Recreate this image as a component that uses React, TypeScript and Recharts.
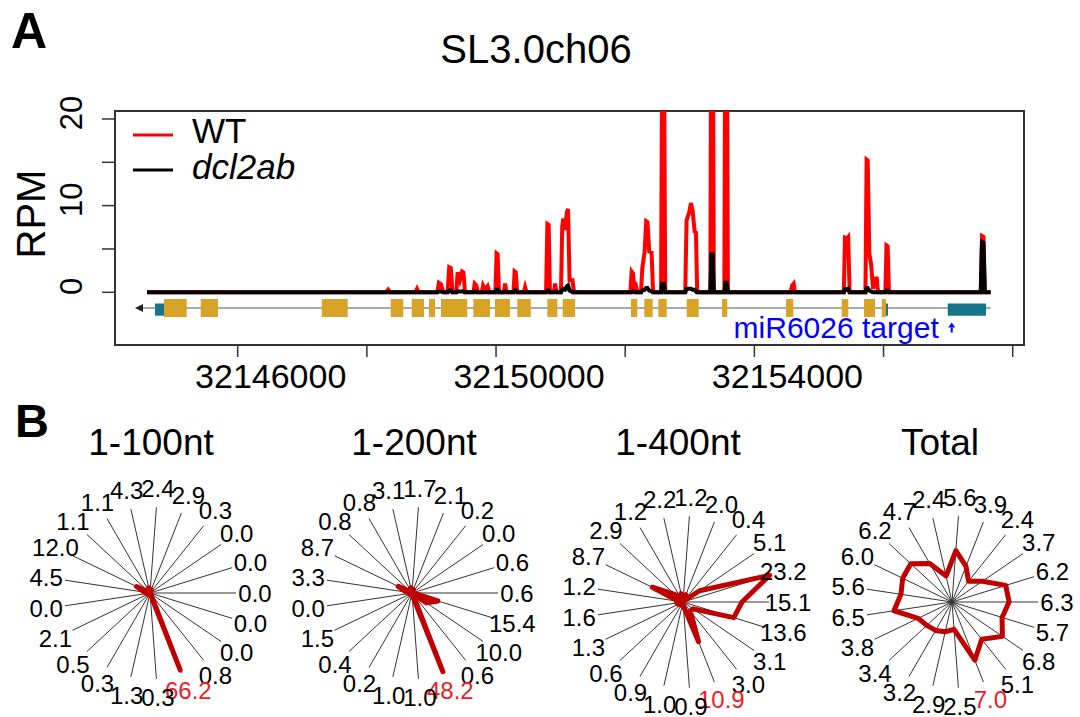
import {
  ComposedChart,
  Legend,
  Line,
  PolarAngleAxis,
  PolarGrid,
  PolarRadiusAxis,
  Radar,
  RadarChart,
  ReferenceArea,
  ReferenceDot,
  XAxis,
  YAxis,
} from 'recharts';

const FONT = '"Liberation Sans", Arial, Helvetica, sans-serif';

// small RNA coverage (RPM) along SL3.0ch06
const positions = [
  32144596, 32148300, 32148330, 32148360, 32148750, 32148776, 32148800, 32149090,
  32149115, 32149150, 32149180, 32149250, 32149275, 32149300, 32149325, 32149385,
  32149405, 32149440, 32149475, 32149495, 32149520, 32149650, 32149670, 32149695,
  32149720, 32149780, 32149800, 32149835, 32149870, 32149895, 32149990, 32150008,
  32150025, 32150045, 32150120, 32150140, 32150162, 32150270, 32150288, 32150305,
  32150328, 32150430, 32150450, 32150472, 32150775, 32150795, 32150815, 32150835,
  32150895, 32150915, 32150935, 32151005, 32151025, 32151042, 32151070, 32151098,
  32151115, 32151138, 32151185, 32151205, 32152080, 32152100, 32152120, 32152140,
  32152165, 32152188, 32152245, 32152265, 32152300, 32152325, 32152345, 32152372,
  32152408, 32152432, 32152555, 32152575, 32152598, 32152620, 32152930, 32152950,
  32152990, 32153018, 32153045, 32153075, 32153095, 32153115, 32153318, 32153336,
  32153354, 32153372, 32153535, 32153553, 32153572, 32153590, 32154560, 32154585,
  32154608, 32154630, 32155385, 32155403, 32155428, 32155452, 32155475, 32155720,
  32155738, 32155755, 32155780, 32155808, 32155838, 32155868, 32155895, 32155915,
  32156028, 32156046, 32156064, 32156084, 32157505, 32157525, 32157548, 32157568,
  32157659,
];
const wtRpm = [
  0, 0, 0.3, 0, 0, 0.4, 0, 0,
  1.1, 0.9, 0, 0, 2.9, 2.8, 0, 0,
  2.3, 1.4, 2.4, 2.3, 0, 0, 1.0, 0.8,
  0, 0, 0.8, 0.3, 0.7, 0, 0, 4.5,
  4.4, 0, 0, 1.0, 0, 0, 2.4, 2.3,
  0, 0, 0.6, 0, 0, 7.9, 7.8, 0,
  0, 1.0, 0, 0, 7.6, 8.5, 7.2, 9.3,
  9.6, 1.4, 1.4, 0, 0, 2.4, 2.2, 0.6,
  0.8, 0, 0, 2.8, 4.6, 8.2, 8.1, 4.7,
  4.6, 0, 0, 32, 32, 0, 0, 8.3,
  9.2, 10.3, 9.4, 7.0, 6.9, 0, 0, 45,
  45, 0, 0, 40, 40, 0, 0, 0.8,
  1.0, 0, 0, 6.3, 6.2, 6.4, 0, 0,
  15.3, 15.2, 4.5, 3.2, 0.4, 1.6, 1.6, 0,
  0, 5.4, 5.3, 0, 0, 6.5, 6.4, 0,
  0,
];
const dcl2abRpm = [
  0, 0, 0, 0, 0, 0, 0, 0,
  0.1, 0.1, 0, 0, 0.2, 0.2, 0, 0,
  0.1, 0.1, 0.1, 0.1, 0, 0, 0.1, 0,
  0, 0, 0, 0, 0, 0, 0, 0.3,
  0.3, 0, 0, 0.1, 0, 0, 0.2, 0.2,
  0, 0, 0, 0, 0, 0.2, 0.2, 0,
  0, 0.1, 0, 0, 0.3, 0.4, 0.3, 0.7,
  0.8, 0.2, 0, 0, 0, 0, 0.1, 0,
  0, 0, 0, 0.2, 0.3, 0.5, 0.5, 0.2,
  0.1, 0, 0, 1.0, 1.0, 0, 0, 0.4,
  0.4, 0.4, 0.3, 0.3, 0.1, 0, 0, 4.4,
  4.4, 0, 0, 1.1, 1.1, 0, 0, 0,
  0, 0, 0, 0.4, 0.3, 0.4, 0, 0,
  0.5, 0.5, 0.2, 0.1, 0, 0, 0, 0,
  0, 0.2, 0.2, 0, 0, 5.8, 5.7, 0,
  0,
];

const xTicks = [32146000, 32148000, 32150000, 32152000, 32154000, 32156000, 32158000];
const xLabelled = [32146000, 32150000, 32154000];
const yTicks = [0, 5, 10, 15, 20];
const yLabelled = [0, 10, 20];

// gene model (minus strand)
const geneStart = 32144534;
const geneEnd = 32157659;
const exonStarts = [
  32144859, 32145427, 32147301, 32148369, 32148694, 32148962, 32149148, 32149648,
  32149984, 32150329, 32150794, 32151032, 32152090, 32152296, 32152513, 32152952,
  32153499, 32154490, 32155352, 32155698, 32155972,
];
const exonEnds = [
  32145210, 32145695, 32147703, 32148564, 32148885, 32149055, 32149555, 32149907,
  32150216, 32150537, 32150949, 32151223, 32152187, 32152426, 32152643, 32153138,
  32153581, 32154603, 32155455, 32155868, 32156038,
];
const utrStarts = [32144720, 32156038, 32156994];
const utrEnds = [32144859, 32156069, 32157587];
const mirTarget = 32157056;

// phasing scores, clockwise starting from the top spoke
const nt100 = [2.4, 2.9, 0.3, 0.0, 0.0, 0.0, 0.0, 0.0, 0.8, 66.2, 0.3, 1.3, 0.3, 0.5, 2.1, 0.0, 4.5, 12.0, 1.1, 1.1, 4.3];
const nt200 = [1.7, 2.1, 0.2, 0.0, 0.6, 0.6, 15.4, 10.0, 0.6, 48.2, 1.0, 1.0, 0.2, 0.4, 1.5, 0.0, 3.3, 8.7, 0.8, 0.8, 3.1];
const nt400 = [1.2, 2.0, 0.4, 5.1, 23.2, 15.1, 13.6, 3.1, 3.0, 10.9, 0.9, 1.0, 0.9, 0.6, 1.3, 1.6, 1.2, 8.7, 2.9, 1.2, 2.2];
const total = [5.6, 3.9, 2.4, 3.7, 6.2, 6.3, 5.7, 6.8, 5.1, 7.0, 2.5, 2.9, 3.2, 3.4, 3.8, 6.5, 5.6, 6.0, 6.2, 4.7, 2.4];
const HIGHLIGHT = 9;

const trackData = positions.map((pos, i) => ({ pos, wt: wtRpm[i], dcl2ab: dcl2abRpm[i] }));

const X_DOMAIN = [32144100, 32158175];
const Y_DOMAIN = [-6.08, 20.92];
const GENE_Y = -1.81;

const XTick = (props: any) => {
  const { x, y, payload } = props;
  if (!xLabelled.includes(payload.value)) return <g />;
  return (
    <text x={x + 33} y={y + 29} textAnchor="middle" fontSize={34} fontFamily={FONT} fill="#000">
      {payload.value}
    </text>
  );
};

const YTick = (props: any) => {
  const { x, y, payload } = props;
  if (!yLabelled.includes(payload.value)) return <g />;
  const tx = x - 18;
  const ty = y - 6;
  return (
    <text x={tx} y={ty} transform={`rotate(-90 ${tx} ${ty})`} textAnchor="middle" fontSize={31} fontFamily={FONT} fill="#000">
      {payload.value}
    </text>
  );
};

const renderLegend = (props: any) => (
  <svg width={220} height={80} style={{ display: 'block' }}>
    {(props.payload || []).map((item: any, i: number) => (
      <g key={item.value}>
        <line x1={13} x2={53} y1={23 + i * 35} y2={23 + i * 35} stroke={item.color} strokeWidth={3} />
        <text
          x={72}
          y={31 + i * 36}
          fontSize={35}
          fontFamily={FONT}
          fontStyle={item.value === 'dcl2ab' ? 'italic' : 'normal'}
          fill="#000"
        >
          {item.value}
        </text>
      </g>
    ))}
  </svg>
);

const arrowLeft = (p: any) => (
  <path d={`M ${p.cx - 8} ${p.cy} L ${p.cx} ${p.cy - 4} L ${p.cx} ${p.cy + 4} Z`} fill="#222" />
);

const mirMark = (p: any) => (
  <g>
    <path d={`M ${p.cx} ${p.cy - 5} L ${p.cx - 3.5} ${p.cy} L ${p.cx + 3.5} ${p.cy} Z`} fill="#0000ff" />
    <line x1={p.cx} x2={p.cx} y1={p.cy} y2={p.cy + 5} stroke="#0000ff" strokeWidth={2} />
    <text x={p.cx - 13} y={p.cy + 10.5} textAnchor="end" fontSize={30} fontFamily={FONT} fill="#0000ff">
      miR6026 target
    </text>
  </g>
);

const CoverageTrack = () => (
  <ComposedChart
    width={1080}
    height={400}
    data={trackData}
    margin={{ top: 111, right: 56, bottom: 54, left: 114 }}
  >
    <XAxis
      dataKey="pos"
      type="number"
      domain={X_DOMAIN}
      allowDataOverflow
      ticks={xTicks}
      tick={XTick}
      tickSize={12}
      tickLine={{ stroke: '#333', strokeWidth: 1.5 }}
      axisLine={false}
      height={1}
      interval={0}
    />
    <YAxis
      type="number"
      domain={Y_DOMAIN}
      allowDataOverflow
      ticks={yTicks}
      tick={YTick}
      tickSize={13}
      tickLine={{ stroke: '#333', strokeWidth: 1.5 }}
      axisLine={false}
      width={1}
      interval={0}
    />
    <ReferenceArea x1={geneStart} x2={geneEnd} y1={GENE_Y + 0.1} y2={GENE_Y - 0.1} fill="#8c8c8c" fillOpacity={1} stroke="none" />
    {exonStarts.map((s, i) => (
      <ReferenceArea key={`e${i}`} x1={s} x2={exonEnds[i]} y1={-0.77} y2={-2.85} fill="#d8a428" fillOpacity={1} stroke="none" />
    ))}
    {utrStarts.map((s, i) => (
      <ReferenceArea key={`u${i}`} x1={s} x2={utrEnds[i]} y1={-1.29} y2={-2.7} fill="#16758a" fillOpacity={1} stroke="none" />
    ))}
    <ReferenceDot x={geneStart} y={GENE_Y} r={0} shape={arrowLeft} />
    <ReferenceDot x={mirTarget} y={-4.07} r={0} shape={mirMark} />
    <Line dataKey="wt" name="WT" type="linear" stroke="#ff0000" strokeWidth={4} dot={false} isAnimationActive={false} />
    <Line dataKey="dcl2ab" name="dcl2ab" type="linear" stroke="#000000" strokeWidth={4} dot={false} isAnimationActive={false} />
    <ReferenceArea
      x1={X_DOMAIN[0]}
      x2={X_DOMAIN[1]}
      y1={Y_DOMAIN[0]}
      y2={Y_DOMAIN[1]}
      fill="none"
      fillOpacity={0}
      stroke="#333"
      strokeWidth={2}
    />
    <Legend
      content={renderLegend}
      layout="vertical"
      align="center"
      verticalAlign="middle"
      wrapperStyle={{ left: 120, top: 112, width: 220, height: 80 }}
    />
  </ComposedChart>
);

// 21 spokes, 360/21 degrees apart; the first spoke sits 4.3 degrees right of vertical
const SPOKE_STEP = 360 / 21;
const FIRST_SPOKE = 90 - SPOKE_STEP / 4;

const Spider = ({ values, cx, cy, rMin, rMax }: any) => {
  const data = values.map((v: number, i: number) => ({ idx: i, v }));
  const W = 280;
  const H = 270;
  const tick = (p: any) => {
    const i = p.payload.value;
    return (
      <text
        x={p.x}
        y={p.y}
        textAnchor="middle"
        dominantBaseline="central"
        fontSize={24}
        fontFamily={FONT}
        fill={i === HIGHLIGHT ? '#ee1c25' : '#000'}
      >
        {values[i].toFixed(1)}
      </text>
    );
  };
  return (
    <div style={{ position: 'absolute', left: cx - W / 2, top: cy - H / 2 }}>
      <RadarChart
        width={W}
        height={H}
        data={data}
        cx={W / 2}
        cy={H / 2}
        outerRadius={86}
        startAngle={FIRST_SPOKE}
        endAngle={FIRST_SPOKE - 360}
        margin={{ top: 0, right: 0, bottom: 0, left: 0 }}
      >
        <PolarGrid polarRadius={[]} stroke="#333" strokeWidth={1} />
        <PolarAngleAxis dataKey="idx" tick={tick} tickLine={false} axisLine={false} tickSize={19} />
        <PolarRadiusAxis domain={[rMin, rMax]} allowDataOverflow tick={false} axisLine={false} />
        <Radar
          dataKey="v"
          stroke="#c00000"
          strokeWidth={5}
          strokeLinejoin="round"
          fill="none"
          fillOpacity={0}
          dot={false}
          isAnimationActive={false}
        />
      </RadarChart>
    </div>
  );
};

const radarPanels = [
  { title: '1-100nt', values: nt100, cx: 150, cy: 593, titleX: 151, rMin: 0, rMax: 68.6 },
  { title: '1-200nt', values: nt200, cx: 412, cy: 593, titleX: 414, rMin: 0, rMax: 48.5 },
  { title: '1-400nt', values: nt400, cx: 683, cy: 602, titleX: 678, rMin: 0, rMax: 21.8 },
  { title: 'Total', values: total, cx: 952, cy: 602, titleX: 940, rMin: -1, rMax: 9.5 },
];

export default function App() {
  return (
    <div style={{ position: 'absolute', left: 0, top: 0, width: 1080, height: 717, background: '#fff', fontFamily: FONT }}>
      <div style={{ position: 'absolute', left: 0, top: 0 }}>
        <CoverageTrack />
      </div>
      {radarPanels.map((p) => (
        <Spider key={p.title} values={p.values} cx={p.cx} cy={p.cy} rMin={p.rMin} rMax={p.rMax} />
      ))}
      <svg
        width={1080}
        height={717}
        style={{ position: 'absolute', left: 0, top: 0, pointerEvents: 'none' }}
        fontFamily={FONT}
      >
        <text x={11} y={48} fontSize={50} fontWeight="bold">A</text>
        <text x={536} y={63} fontSize={40} textAnchor="middle">SL3.0ch06</text>
        <text x={45} y={214} fontSize={40} textAnchor="middle" transform="rotate(-90 45 214)">RPM</text>
        <text x={15} y={437} fontSize={47} fontWeight="bold">B</text>
        {radarPanels.map((p) => (
          <text key={p.title} x={p.titleX} y={455} fontSize={37} textAnchor="middle">
            {p.title}
          </text>
        ))}
      </svg>
    </div>
  );
}
